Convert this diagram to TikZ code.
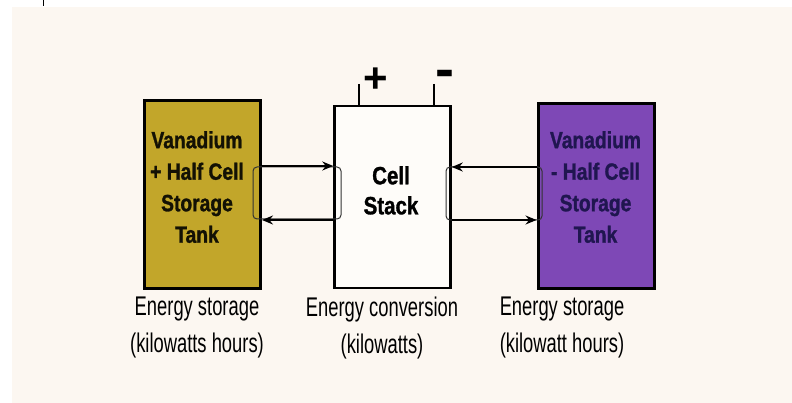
\documentclass[tikz,border=0pt]{standalone}
\usepackage{fontspec}
\usepackage{tikz}
\usetikzlibrary{arrows.meta, positioning}
\setmainfont{Liberation Sans}
\newfontfamily\tankfont[FakeStretch=0.82, FakeBold=1.2]{Liberation Sans Bold}
\newfontfamily\labelfont[FakeStretch=0.68]{Liberation Sans}
\definecolor{paper}{HTML}{FCF7F1}
\definecolor{vplus}{HTML}{C2A62A}
\definecolor{vminus}{HTML}{7E48B6}
\definecolor{inkblue}{HTML}{201650}

\begin{document}
\begin{tikzpicture}[>={Stealth[length=11pt,width=9pt]}, x=1pt, y=-1pt,
    box/.style={draw, line width=3pt, minimum width=116pt},
    pipe/.style={draw, black!80, line width=1pt, rounded corners=4pt, inner sep=0pt},
    flow/.style={->, line width=1.5pt},
    tanktext/.style={anchor=north, inner sep=0pt, align=center, font=\tankfont\fontsize{23.5}{31.5}\selectfont},
    caption/.style={anchor=north, inner sep=0pt, align=center, font=\labelfont\fontsize{27}{37}\selectfont}]
  \useasboundingbox (0,0) rectangle (792,403);
  % Pozadí
  \fill[paper] (12,7) rectangle (792,403);
  \draw[line width=1pt] (43,0) -- (43,6);

  % Nádrže a článek
  \node[box, fill=vplus, minimum height=188pt] (tankplus) at (202.5,194.5) {};
  \node[box, line width=2.5pt, fill=white!60!paper, minimum height=182pt] (stack) at (392.5,197) {};
  \node[box, fill=vminus, minimum height=184pt] (tankminus) at (596,196) {};

  % Texty v nádržích
  \node[tanktext, text=black!90!vplus] (plustext) at (197,131) {Vanadium\\+ Half Cell\\Storage\\Tank};
  \node[tanktext, font=\tankfont\fontsize{25}{30}\selectfont] (stacktext) at (391,166) {Cell\\Stack};
  \node[tanktext, text=inkblue] (minustext) at (595.5,131) {Vanadium\\- Half Cell\\Storage\\Tank};

  % Svorky
  \coordinate (plusterm) at (359,84);
  \coordinate (minusterm) at (434,84);
  \draw[line width=2pt] (plusterm) -- (plusterm |- stack.north);
  \draw[line width=2pt] (minusterm) -- (minusterm |- stack.north);
  \node[inner sep=0pt, font=\bfseries\fontsize{42}{42}\selectfont] (plussign) at (376,80) {+};
  \node[inner sep=0pt, font=\bfseries\fontsize{30}{30}\selectfont] (minussign) at (445,79) {\scalebox{1.9}[1.8]{-}};

  % Oběh elektrolytu
  \node[pipe, minimum width=88pt, minimum height=52pt] (plusloop) at (297,193) {};
  \node[pipe, minimum width=96pt, minimum height=53pt] (minusloop) at (494,193.5) {};
  \draw[flow] (tankplus.east |- 0,166) -- (stack.west |- 0,166);
  \draw[flow] (stack.west |- 0,220) -- (tankplus.east |- 0,220);
  \draw[flow] (tankminus.west |- 0,167) -- (stack.east |- 0,167);
  \draw[flow] (stack.east |- 0,220) -- (tankminus.west |- 0,220);

  % Popisky
  \node[caption] (pluscap) at (197,297) {Energy storage\\(kilowatts hours)};
  \node[caption] (stackcap) at (382,297) {Energy conversion\\(kilowatts)};
  \node[caption] (minuscap) at (562,297) {Energy storage\\(kilowatt hours)};
\end{tikzpicture}
\end{document}
